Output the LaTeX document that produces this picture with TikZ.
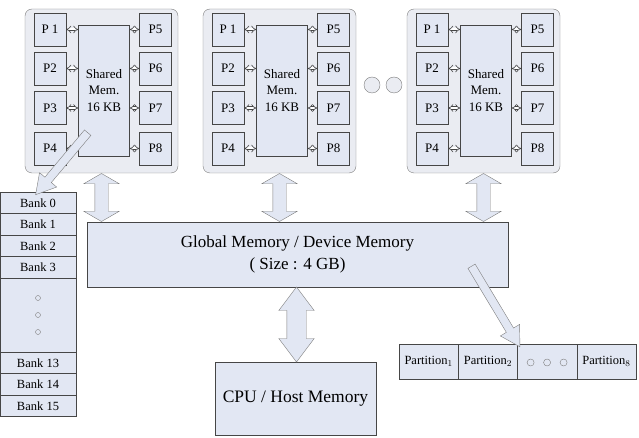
\documentclass[tikz,border=0pt]{standalone}
\usepackage{fontspec}
\setmainfont{Liberation Serif}
\usetikzlibrary{shapes.arrows,calc,arrows.meta}
\definecolor{blkfill}{RGB}{234,236,242}
\definecolor{boxfill}{RGB}{226,231,243}
\definecolor{edge}{RGB}{70,70,70}
\definecolor{arredge}{RGB}{125,125,125}

\begin{document}
\begin{tikzpicture}[x=1pt,y=-1pt,
  blk/.style={rectangle,rounded corners=7pt,draw=arredge,fill=blkfill,minimum width=153pt,minimum height=164pt,inner sep=0pt},
  pe/.style={rectangle,draw=edge,fill=boxfill,minimum width=32pt,minimum height=33pt,inner sep=0pt,font=\fontsize{13}{15}\selectfont},
  smem/.style={rectangle,draw=edge,fill=boxfill,minimum width=51pt,minimum height=131pt,inner sep=0pt,align=center,font=\fontsize{13}{16.5}\selectfont},
  link/.style={draw=edge,double=white,double distance=2pt,line width=0.6pt,{Implies}-{Implies}},
  bank/.style={rectangle,draw=edge,fill=boxfill,minimum width=76pt,minimum height=21.5pt,inner sep=0pt,font=\fontsize{12.5}{14}\selectfont},
  gmem/.style={rectangle,draw=edge,fill=boxfill,minimum width=421pt,minimum height=65pt,inner sep=0pt,align=center,font=\fontsize{17}{22}\selectfont},
  host/.style={rectangle,draw=edge,fill=boxfill,minimum width=161pt,minimum height=73pt,inner sep=0pt,font=\fontsize{17.5}{20}\selectfont},
  part/.style={rectangle,draw=edge,fill=boxfill,minimum width=59.25pt,minimum height=35pt,inner sep=0pt,font=\fontsize{12.5}{14}\selectfont},
  bigarr/.style={double arrow,draw=arredge,fill=boxfill,inner xsep=0pt,inner ysep=6.5pt,double arrow head extend=11pt,double arrow tip angle=120,rotate=90},
  slant/.style={single arrow,draw=arredge,fill=boxfill,inner xsep=0pt,inner ysep=4pt,single arrow head extend=7pt,single arrow tip angle=60},
  dot/.style={circle,draw=arredge,fill=blkfill,minimum size=16pt,inner sep=0pt},
  sdot/.style={circle,draw=arredge,minimum size=#1,inner sep=0pt}]
  \useasboundingbox (0,0) rectangle (639,438);

  \foreach \b/\L in {1/25,2/203,3/407}{
    \node[blk] (blk\b) at (\L+76.5,91) {};
    \node[smem] (sm\b) at (\L+79,90.5) {Shared\\Mem.\\16 KB};
    \foreach \i/\y/\lab in {1/29.5/P 1,2/68.5/P2,3/108/P3,4/148.5/P4}{
      \node[pe] (pl\b\i) at (\L+25,\y) {\lab};
      \draw[link] (pl\b\i.east) -- (pl\b\i.east -| sm\b.west);
    }
    \foreach \i/\y in {5/29.5,6/68.5,7/108,8/148.5}{
      \node[pe] (pr\b\i) at (\L+130.5,\y) {P\i};
      \draw[link] (sm\b.east |- pr\b\i.west) -- (pr\b\i.west);
    }
  }
  \node[dot] (gap1) at (372,85) {};
  \node[dot] (gap2) at (394,85) {};

  \node[gmem] (gm) at (297.5,254.5) {Global Memory / Device Memory\\( Size : 4 GB)};
  \node[host] (cpu) at (295.5,398.5) {CPU / Host Memory};

  \foreach \n/\y in {0/202.75,1/224.25,2/245.75,3/267.25,13/362.75,14/384.25,15/405.75}
    \node[bank] (bk\n) at (38,\y) {Bank \n};
  \node[bank,minimum height=74pt] (bkdots) at (38,315) {};
  \foreach \d in {-17,0,17}
    \node[sdot=5pt] at ($(bkdots.center)+(0,\d)$) {};

  \node[part] (pt1) at (428.6,361.5) {Partition$_1$};
  \node[part] (pt2) at (487.9,361.5) {Partition$_2$};
  \node[part] (pt3) at (547.1,361.5) {};
  \node[part] (pt8) at (606.4,361.5) {Partition$_8$};
  \foreach \d in {-16.5,0,16.5}
    \node[sdot=7pt] at ($(pt3.center)+(\d,1)$) {};

  \foreach \b in {1,2,3}
    \node[bigarr,minimum height=48pt] at ($(blk\b.south)!.5!(blk\b.south |- gm.north)$) {};
  \node[bigarr,minimum height=75pt,inner ysep=9.5pt,double arrow head extend=8pt,double arrow tip angle=74] at ($(gm.south)!.5!(cpu.north)$) {};

  \coordinate (smtail) at (90,130);
  \coordinate (gmtail) at (470,263);
  \node[slant,minimum height=81pt,rotate=230] at ($(smtail)!.5!(bk0.north)$) {};
  \node[slant,minimum height=94pt,rotate=-59] at ($(gmtail)!.5!(pt2.north east)$) {};
\end{tikzpicture}
\end{document}
